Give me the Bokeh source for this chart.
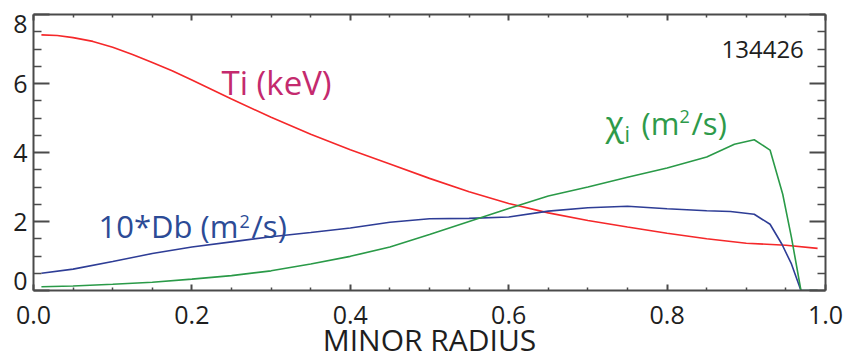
from bokeh.plotting import figure
from bokeh.models import Range1d, LinearAxis, FixedTicker, Label
from bokeh.embed import file_html
from bokeh.resources import INLINE

# ---------------- data ----------------
r_ti = [0.01, 0.03, 0.05, 0.075, 0.10, 0.125, 0.15, 0.175, 0.20, 0.25, 0.30,
        0.35, 0.40, 0.45, 0.50, 0.55, 0.60, 0.65, 0.70, 0.75, 0.80, 0.85,
        0.90, 0.95, 0.99]
ti_kev = [7.41, 7.39, 7.33, 7.22, 7.05, 6.84, 6.61, 6.37, 6.10, 5.55, 5.02,
          4.53, 4.08, 3.67, 3.25, 2.86, 2.52, 2.25, 2.03, 1.84, 1.66, 1.50,
          1.37, 1.31, 1.22]

r_db = [0.01, 0.05, 0.10, 0.15, 0.20, 0.25, 0.30, 0.35, 0.40, 0.45, 0.50,
        0.55, 0.60, 0.65, 0.70, 0.75, 0.80, 0.85, 0.88, 0.91, 0.93, 0.945,
        0.957, 0.969, 0.99]
db_x10 = [0.50, 0.62, 0.84, 1.07, 1.26, 1.41, 1.56, 1.68, 1.81, 1.98, 2.08,
          2.09, 2.13, 2.30, 2.40, 2.44, 2.37, 2.31, 2.29, 2.21, 1.92, 1.34,
          0.77, 0.0, 0.0]

r_chi = [0.01, 0.05, 0.10, 0.15, 0.20, 0.25, 0.30, 0.35, 0.40, 0.45, 0.50,
         0.55, 0.60, 0.65, 0.70, 0.75, 0.80, 0.85, 0.885, 0.91, 0.93, 0.946,
         0.957, 0.969, 0.99]
chi_i = [0.11, 0.13, 0.18, 0.24, 0.33, 0.43, 0.57, 0.77, 0.99, 1.26, 1.62,
         2.00, 2.38, 2.74, 3.00, 3.28, 3.55, 3.87, 4.24, 4.37, 4.07, 2.79,
         1.54, 0.0, 0.0]

x_ticks = [0.0, 0.2, 0.4, 0.6, 0.8, 1.0]
x_tick_labels = ["0.0", "0.2", "0.4", "0.6", "0.8", "1.0"]
x_minor = [0.05, 0.1, 0.15, 0.25, 0.3, 0.35, 0.45, 0.5, 0.55, 0.65, 0.7,
           0.75, 0.85, 0.9, 0.95]
y_ticks = [0, 2, 4, 6, 8]
y_minor = [0.5, 1, 1.5, 2.5, 3, 3.5, 4.5, 5, 5.5, 6.5, 7, 7.5]
# where the reference prints its y tick labels (0 and 8 pulled inside)
y_label_pos = [0.28, 2, 4, 6, 7.73]
y_tick_labels = ["0", "2", "4", "6", "8"]

shot_number = "134426"
x_title = "MINOR RADIUS"

# ---------------- layout constants ----------------
W, H = 845, 363
FL, FR, FT, FB = 33, 825, 14, 290          # frame edges in pixels
FONT = "Open Sans"
AX_COL = "#4a4a4a"
TXT_COL = "#1e1e1e"
RED, BLUE, GREEN = "#f5282a", "#2e3d96", "#2a9a48"
TI_TXT, DB_TXT, CHI_TXT = "#c42a6e", "#2c4b96", "#2e9a4a"


def dx(px):
    return (px - FL) / (FR - FL)


def dy(py):
    return 8.0 * (FB - py) / (FB - FT)


p = figure(width=W, height=H, x_range=Range1d(0, 1), y_range=Range1d(0, 8),
           output_backend="svg", toolbar_location=None,
           min_border_left=FL, min_border_right=W - FR,
           min_border_top=FT, min_border_bottom=H - FB)
p.xgrid.visible = False
p.ygrid.visible = False
p.outline_line_color = None
p.background_fill_color = "white"
p.border_fill_color = "white"

xt = FixedTicker(ticks=x_ticks, minor_ticks=x_minor)
yt = FixedTicker(ticks=y_ticks, minor_ticks=y_minor)


def style(ax, major_in, minor_in):
    ax.axis_line_color = AX_COL
    ax.axis_line_width = 2
    ax.major_tick_line_color = AX_COL
    ax.minor_tick_line_color = AX_COL
    ax.major_tick_line_width = 2
    ax.minor_tick_line_width = 1.5
    ax.major_tick_in = major_in
    ax.major_tick_out = 0
    ax.minor_tick_in = minor_in
    ax.minor_tick_out = 0
    ax.major_label_text_font = FONT
    ax.major_label_text_color = TXT_COL


def hide_labels(ax, ticks):
    ax.major_label_overrides = {t: "" for t in ticks}
    ax.major_label_text_font_size = "1px"
    ax.major_label_standoff = 0


# bottom axis: ticks, labels and title
xa = p.xaxis[0]
xa.ticker = xt
style(xa, 6, 3)
xa.major_label_text_font_size = "25px"
xa.major_label_standoff = 15
xa.major_label_overrides = {t: l for t, l in zip(x_ticks, x_tick_labels)}
xa.axis_label = x_title
xa.axis_label_text_font = FONT
xa.axis_label_text_font_size = "30px"
xa.axis_label_text_font_style = "normal"
xa.axis_label_text_color = TXT_COL
xa.axis_label_standoff = -8

# left axis: tick marks only (inner)
ya = p.yaxis[0]
ya.ticker = yt
style(ya, 16, 8)
hide_labels(ya, y_ticks)

# left axis: labels only (outer), placed like the reference
yl = LinearAxis(ticker=FixedTicker(ticks=y_label_pos))
yl.axis_line_color = None
yl.major_tick_line_color = None
yl.minor_tick_line_color = None
yl.major_tick_out = 0
yl.major_tick_in = 0
yl.major_label_text_font = FONT
yl.major_label_text_font_size = "25px"
yl.major_label_text_color = TXT_COL
yl.major_label_standoff = 6
yl.major_label_overrides = {t: l for t, l in zip(y_label_pos, y_tick_labels)}
p.add_layout(yl, "left")

top = LinearAxis(ticker=xt)
style(top, 6, 3)
hide_labels(top, x_ticks)
p.add_layout(top, "above")

right = LinearAxis(ticker=yt)
style(right, 16, 8)
hide_labels(right, y_ticks)
p.add_layout(right, "right")

# ---------------- curves ----------------
p.line(r_ti, ti_kev, line_color=RED, line_width=1.6)
p.line(r_db, db_x10, line_color=BLUE, line_width=1.6)
p.line(r_chi, chi_i, line_color=GREEN, line_width=1.6)


# ---------------- texts ----------------
def lab(text, px, py, size, color, align="left", baseline="alphabetic"):
    p.add_layout(Label(x=dx(px), y=dy(py), text=text, text_font=FONT,
                       text_font_size=size, text_color=color,
                       text_align=align, text_baseline=baseline))


lab(shot_number, 721, 49, "24px", TXT_COL)

lab("Ti (keV)", 221, 82, "33px", TI_TXT)

lab("10*Db (m", 98, 225, "31px", DB_TXT)
lab("2", 239, 221, "18px", DB_TXT)
lab("/s)", 251, 225, "31px", DB_TXT)

lab("\u03c7", 605, 122, "34px", CHI_TXT)
lab("i", 624, 132, "22px", CHI_TXT)
lab("(m", 641, 122, "31px", CHI_TXT)
lab("2", 679, 116, "18px", CHI_TXT)
lab("/s)", 691, 122, "31px", CHI_TXT)

open("out.html", "w").write(file_html(p, INLINE))
